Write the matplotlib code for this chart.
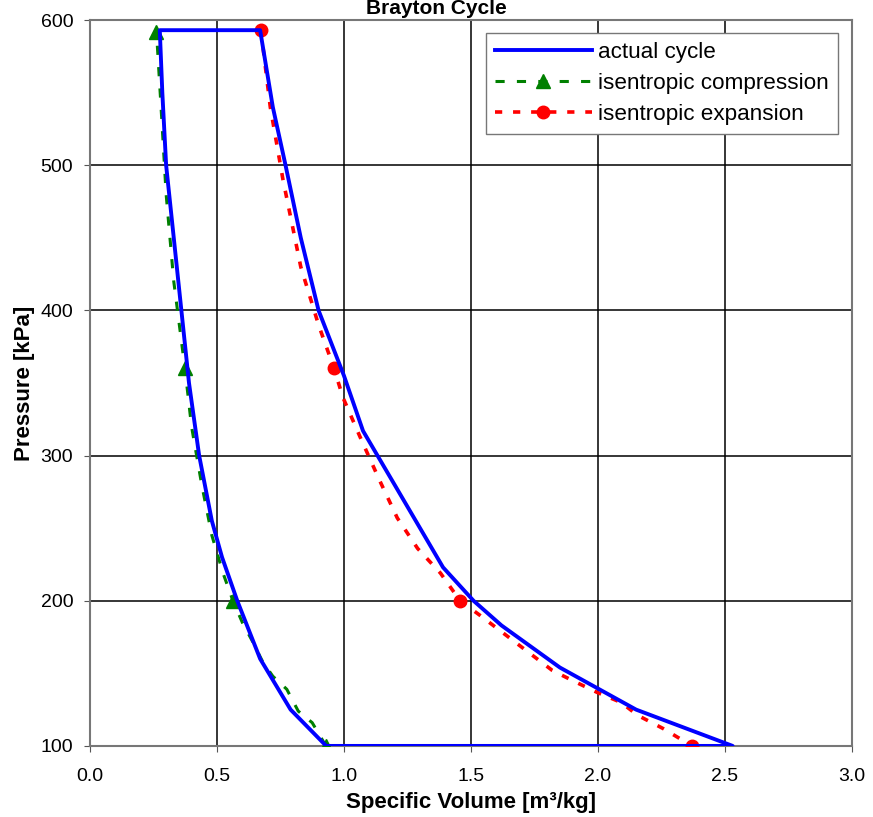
import matplotlib.pyplot as plt

plt.rcParams['font.family'] = ['Liberation Sans', 'DejaVu Sans']

# ciclo real (azul), fechado
v_real = [0.93, 0.79, 0.67, 0.58, 0.52, 0.48, 0.43, 0.39, 0.36, 0.33, 0.30, 0.285, 0.275,
          0.67, 0.72, 0.77, 0.83, 0.90, 1.00, 1.075, 1.39, 1.51, 1.62, 1.85, 2.15, 2.53,
          0.93]
p_real = [100, 125, 160, 200, 230, 255, 300, 350, 400, 450, 500, 550, 593,
          593, 540, 500, 450, 400, 355, 317, 223, 200, 183, 154, 125, 100,
          100]

# compressao isentropica (verde)
v_comp = [0.929, 0.875, 0.82, 0.775, 0.72, 0.68, 0.64, 0.60, 0.563, 0.524, 0.48, 0.44, 0.40,
          0.374, 0.33, 0.30, 0.28, 0.262]
p_comp = [100, 116, 124, 139, 148, 158, 172, 185, 200, 219, 245, 280, 320,
          360, 420, 480, 540, 592]
marc_comp = [0, 8, 13, 17]

# expansao isentropica (vermelho)
v_exp = [0.673, 0.71, 0.76, 0.83, 0.90, 0.961, 0.996, 1.063, 1.14, 1.21, 1.29, 1.38,
         1.457, 1.535, 1.82, 1.90, 1.995, 2.09, 2.157, 2.256, 2.37]
p_exp = [593, 540, 490, 430, 390, 360, 340, 313, 283, 257, 236, 219,
         200, 190, 152, 145, 137, 130, 121, 112, 100]
marc_exp = [0, 5, 12, 20]

fig = plt.figure(figsize=(8.73, 8.17), dpi=100)
ax = fig.add_axes([0.103, 0.087, 0.873, 0.8885])

l_comp, = ax.plot(v_comp, p_comp, color='#008000', linestyle=(0, (3, 4)), linewidth=2.2,
                  marker='^', markersize=10, markevery=marc_comp, zorder=3)
l_exp, = ax.plot(v_exp, p_exp, color='red', linestyle=(0, (2, 3)), linewidth=2.6,
                 marker='o', markersize=9, markevery=marc_exp, zorder=3)
l_real, = ax.plot(v_real, p_real, color='#0000ff', linewidth=2.8, zorder=4)

ax.set_xlim(0, 3)
ax.set_ylim(100, 600)
ax.set_xticks([0, 0.5, 1.0, 1.5, 2.0, 2.5, 3.0])
ax.set_xticklabels(['0.0', '0.5', '1.0', '1.5', '2.0', '2.5', '3.0'])
ax.set_yticks([100, 200, 300, 400, 500, 600])
ax.tick_params(labelsize=14, direction='out', length=4, color='#555555')
ax.tick_params(axis='x', pad=12)
ax.tick_params(axis='y', pad=8)
ax.grid(True, color='black', linewidth=1.1)
ax.set_axisbelow(True)
for s in ax.spines.values():
    s.set_color('#777777')
    s.set_linewidth(1.5)

ax.set_xlabel('Specific Volume [m³/kg]', fontsize=16, fontweight='bold', labelpad=5)
ax.set_ylabel('Pressure [kPa]', fontsize=16, fontweight='bold', labelpad=4)
fig.text(0.5, 1 - 8 / 817, 'Brayton Cycle', fontsize=15, fontweight='bold',
         ha='center', va='center')

ax.legend([l_real, l_comp, l_exp],
          ['actual cycle', 'isentropic compression', 'isentropic expansion'],
          loc='upper right', bbox_to_anchor=(0.9816, 0.982), borderaxespad=0,
          fontsize=16.2, fancybox=False, framealpha=1, edgecolor='#777777',
          handlelength=4.3, borderpad=0.4, labelspacing=0.45, handletextpad=0.3)

fig.savefig('out.png', dpi=100)
